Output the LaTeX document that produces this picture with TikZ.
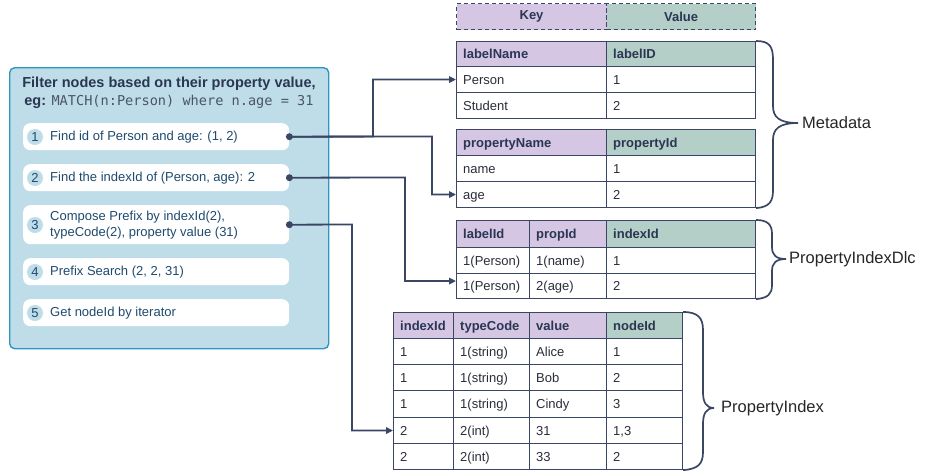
\documentclass[tikz,border=0pt]{standalone}
\usepackage{fontspec}
\setmainfont{Liberation Sans}
\setmonofont{DejaVu Sans Mono}
\usetikzlibrary{arrows.meta,calc}
\definecolor{navy}{HTML}{3A4664}
\definecolor{keyc}{HTML}{D5C6E4}
\definecolor{valc}{HTML}{B4CFC8}
\definecolor{panelc}{HTML}{BEDDE9}
\definecolor{panelb}{HTML}{2E96C3}
\definecolor{stepc}{HTML}{1F4A6E}
\definecolor{titlec}{HTML}{2B3652}
\definecolor{cellt}{HTML}{2A2E38}
\newcommand\tcell[7]{%
  \node[cellbox,#6,minimum width=#4pt,minimum height=#5pt] (#1) at (#2,#3) {};
  \node[celltext] (#1t) at ([xshift=7pt,yshift=-4.6pt]#1.west) {#7};}
\begin{document}
\begin{tikzpicture}[x=1pt,y=-1pt,
  cellbox/.style={draw=navy,line width=1.1pt,fill=white,anchor=north west,inner sep=0pt},
  celltext/.style={anchor=base west,inner sep=0pt,text=cellt,font=\fontsize{13}{15}\selectfont},
  hdrcell/.style={draw=navy,line width=1.1pt,anchor=north west,inner sep=0pt,dashed,dash pattern=on 4pt off 3pt,font=\fontsize{13}{15}\selectfont\bfseries,text=titlec},
  panel/.style={draw=panelb,line width=1.4pt,fill=panelc,rounded corners=5pt,anchor=north west,inner sep=0pt},
  stepbox/.style={fill=white,rounded corners=7pt,anchor=north west,inner sep=0pt},
  numc/.style={circle,fill=panelc,minimum size=16pt,inner sep=0pt,text=stepc,font=\fontsize{13}{15}\selectfont},
  steptext/.style={anchor=west,inner sep=0pt,text=stepc,align=left,font=\fontsize{13}{16}\selectfont},
  conn/.style={draw=navy,line width=1.8pt,-{Triangle[length=7pt,width=6.5pt]}},
  dot/.style={circle,fill=navy,minimum size=7pt,inner sep=0pt},
  brace/.style={draw=navy,line width=1.7pt},
  bracelabel/.style={anchor=west,inner sep=0pt,text=black!85,font=\fontsize{16.5}{19}\selectfont}]
\useasboundingbox (0,0) rectangle (927,472);

% ---- left panel ----
\node[panel,minimum width=319pt,minimum height=281pt] (panel) at (9,67) {};
\node[inner sep=0pt,text=titlec,font=\fontsize{14.5}{17}\selectfont\bfseries] (title1) at (169,84) {Filter nodes based on their property value,};
\node[inner sep=0pt,text=titlec,font=\fontsize{14.5}{17}\selectfont] (title2) at (169,102) {\textbf{eg:} {\fontsize{13.6}{17}\selectfont\ttfamily\color{titlec!85}MATCH(n:Person) where n.age = 31}};

\node[stepbox,minimum width=266pt,minimum height=27pt] (s1) at (23,123) {};
\node[numc] (n1) at (35,137) {1};
\node[steptext] (s1t) at (50,137) {Find id of Person and age: (1, 2)};

\node[stepbox,minimum width=266pt,minimum height=27pt] (s2) at (23,164) {};
\node[numc] (n2) at (35,178) {2};
\node[steptext] (s2t) at (50,178) {Find the indexId of (Person, age): 2};

\node[stepbox,minimum width=266pt,minimum height=39pt] (s3) at (23,205) {};
\node[numc] (n3) at (35,225) {3};
\node[steptext] (s3t) at (50,225) {Compose Prefix by indexId(2),\\typeCode(2), property value (31)};

\node[stepbox,minimum width=266pt,minimum height=27pt] (s4) at (23,258) {};
\node[numc] (n4) at (35,272) {4};
\node[steptext] (s4t) at (50,272) {Prefix Search (2, 2, 31)};

\node[stepbox,minimum width=266pt,minimum height=27pt] (s5) at (23,299) {};
\node[numc] (n5) at (35,313) {5};
\node[steptext] (s5t) at (50,313) {Get nodeId by iterator};

% ---- key/value legend ----
\node[hdrcell,fill=keyc,minimum width=150pt,minimum height=26pt] (hk) at (456,3) {Key};
\node[hdrcell,fill=valc,minimum width=149pt,minimum height=26pt] (hv) at (606,3) {Value};

% ---- table 1: labels ----
\tcell{a1}{456}{41}{150}{25}{fill=keyc}{\textbf{\color{titlec}labelName}}
\tcell{a2}{606}{41}{149}{25}{fill=valc}{\textbf{\color{titlec}labelID}}
\tcell{a3}{456}{66}{150}{26}{}{Person}
\tcell{a4}{606}{66}{149}{26}{}{1}
\tcell{a5}{456}{92}{150}{26}{}{Student}
\tcell{a6}{606}{92}{149}{26}{}{2}

% ---- table 2: properties ----
\tcell{b1}{456}{129}{150}{26}{fill=keyc}{\textbf{\color{titlec}propertyName}}
\tcell{b2}{606}{129}{149}{26}{fill=valc}{\textbf{\color{titlec}propertyId}}
\tcell{b3}{456}{155}{150}{26}{}{name}
\tcell{b4}{606}{155}{149}{26}{}{1}
\tcell{b5}{456}{181}{150}{26}{}{age}
\tcell{b6}{606}{181}{149}{26}{}{2}

% ---- table 3: PropertyIndexDlc ----
\tcell{c1}{456}{220}{73}{27}{fill=keyc}{\textbf{\color{titlec}labelId}}
\tcell{c2}{529}{220}{77}{27}{fill=keyc}{\textbf{\color{titlec}propId}}
\tcell{c3}{606}{220}{149}{27}{fill=valc}{\textbf{\color{titlec}indexId}}
\tcell{c4}{456}{247}{73}{26}{}{1(Person)}
\tcell{c5}{529}{247}{77}{26}{}{1(name)}
\tcell{c6}{606}{247}{149}{26}{}{1}
\tcell{c7}{456}{273}{73}{25}{}{1(Person)}
\tcell{c8}{529}{273}{77}{25}{}{2(age)}
\tcell{c9}{606}{273}{149}{25}{}{2}

% ---- table 4: PropertyIndex ----
\tcell{d1}{393}{312}{60}{26}{fill=keyc}{\textbf{\color{titlec}indexId}}
\tcell{d2}{453}{312}{76}{26}{fill=keyc}{\textbf{\color{titlec}typeCode}}
\tcell{d3}{529}{312}{77}{26}{fill=keyc}{\textbf{\color{titlec}value}}
\tcell{d4}{606}{312}{76}{26}{fill=valc}{\textbf{\color{titlec}nodeId}}
\tcell{e1}{393}{338}{60}{26}{}{1}
\tcell{e2}{453}{338}{76}{26}{}{1(string)}
\tcell{e3}{529}{338}{77}{26}{}{Alice}
\tcell{e4}{606}{338}{76}{26}{}{1}
\tcell{f1}{393}{364}{60}{26}{}{1}
\tcell{f2}{453}{364}{76}{26}{}{1(string)}
\tcell{f3}{529}{364}{77}{26}{}{Bob}
\tcell{f4}{606}{364}{76}{26}{}{2}
\tcell{g1}{393}{390}{60}{27}{}{1}
\tcell{g2}{453}{390}{76}{27}{}{1(string)}
\tcell{g3}{529}{390}{77}{27}{}{Cindy}
\tcell{g4}{606}{390}{76}{27}{}{3}
\tcell{h1}{393}{417}{60}{26}{}{2}
\tcell{h2}{453}{417}{76}{26}{}{2(int)}
\tcell{h3}{529}{417}{77}{26}{}{31}
\tcell{h4}{606}{417}{76}{26}{}{1,3}
\tcell{i1}{393}{443}{60}{26}{}{2}
\tcell{i2}{453}{443}{76}{26}{}{2(int)}
\tcell{i3}{529}{443}{77}{26}{}{33}
\tcell{i4}{606}{443}{76}{26}{}{2}

% ---- braces ----
\draw[brace] (a2.north east) .. controls (770,41) and (773,47) .. (773,60) -- (773,106)
  .. controls (773,117) and (779,123) .. (798,123)
  .. controls (779,123) and (773,129) .. (773,140) -- (773,190)
  .. controls (773,201) and (770,207) .. (b6.south east);
\draw[brace] (c3.north east) .. controls (768,220) and (772,225) .. (772,234) -- (772,247)
  .. controls (772,255) and (776,259) .. (786,259)
  .. controls (776,259) and (772,263) .. (772,271) -- (772,285)
  .. controls (772,294) and (768,298) .. (c9.south east);
\draw[brace] (d4.north east) .. controls (698,312) and (703,318) .. (703,330) -- (703,392)
  .. controls (703,402) and (706,408) .. (714,408)
  .. controls (706,408) and (703,414) .. (703,424) -- (703,452)
  .. controls (703,464) and (698,469) .. (i4.south east);
\node[bracelabel] (lmeta) at (802,123) {Metadata};
\node[bracelabel] (lpid) at (789,259) {PropertyIndexDlc};
\node[bracelabel] (lpi) at (721,408) {PropertyIndex};

% ---- connectors ----
\draw[conn] (s1.east) -- (373,136.5) |- (a3.west);
\draw[conn] (s1.east) -- (432,136.5) |- (b5.west);
\draw[conn] (s2.east) -- (405,177.5) |- ([yshift=5pt]c7.west);
\draw[conn] (s3.east) -- (352,224.5) |- (h1.west);
\node[dot] (p1) at (s1.east) {};
\node[dot] (p2) at (s2.east) {};
\node[dot] (p3) at (s3.east) {};
\end{tikzpicture}
\end{document}
